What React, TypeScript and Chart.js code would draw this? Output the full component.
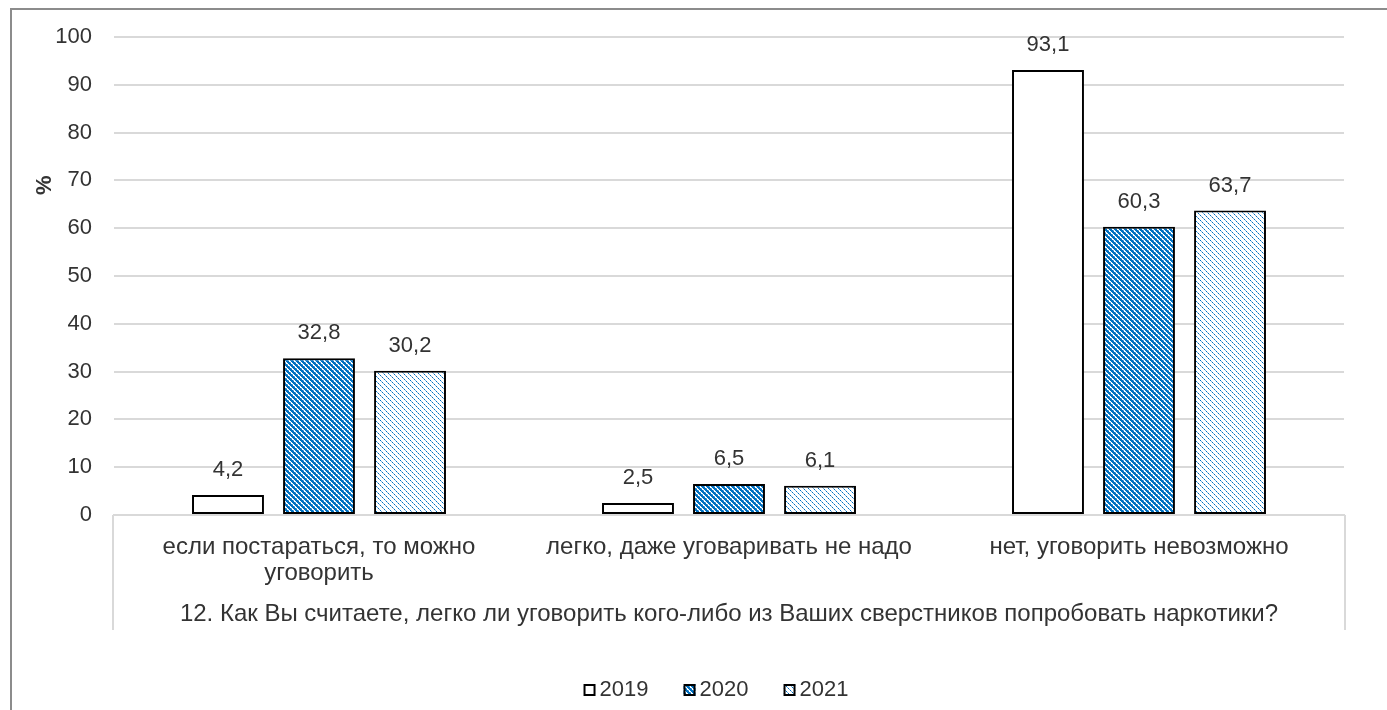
import { useEffect, useRef } from 'react';
import { Chart, registerables } from 'chart.js';

Chart.register(...registerables);

const categories: (string | string[])[] = [
  ['если постараться, то можно', 'уговорить'],
  'легко, даже уговаривать не надо',
  'нет, уговорить невозможно',
];
const seriesNames = ['2019', '2020', '2021'];
const values2019 = [4.2, 2.5, 93.1];
const values2020 = [32.8, 6.5, 60.3];
const values2021 = [30.2, 6.1, 63.7];
const yMin = 0;
const yMax = 100;
const yStep = 10;
const xAxisTitle = '12. Как Вы считаете, легко ли уговорить кого-либо из Ваших сверстников попробовать наркотики?';
const yAxisTitle = '%';

const FONT = "'Liberation Sans', Arial, sans-serif";
const TEXT = '#333333';
const GRID = '#d9d9d9';
const BLUE = [0, 112, 192];
const LIGHTBLUE = [120, 176, 226];
const WHITE = [255, 255, 255];

function makePattern(kind: 'dark' | 'light'): CanvasPattern {
  const n = 10;
  const c = document.createElement('canvas');
  c.width = n;
  c.height = n;
  const ctx = c.getContext('2d')!;
  const img = ctx.createImageData(n, n);
  for (let y = 0; y < n; y++) {
    for (let x = 0; x < n; x++) {
      const m = (((x - y) % 5) + 5) % 5;
      let col = WHITE;
      if (kind === 'dark') {
        if (m <= 2) col = BLUE;
        else if (m === 3 && y % 2 === 0) col = LIGHTBLUE;
      } else {
        if (m === 0) col = x % 2 === 0 ? BLUE : LIGHTBLUE;
      }
      const i = (y * n + x) * 4;
      img.data[i] = col[0];
      img.data[i + 1] = col[1];
      img.data[i + 2] = col[2];
      img.data[i + 3] = 255;
    }
  }
  ctx.putImageData(img, 0, 0);
  return ctx.createPattern(c, 'repeat')!;
}

export default function App() {
  const ref = useRef<HTMLCanvasElement | null>(null);

  useEffect(() => {
    if (!ref.current) return;
    const fills: (string | CanvasPattern)[] = ['#ffffff', makePattern('dark'), makePattern('light')];
    const seriesValues = [values2019, values2020, values2021];

    const framePlugin = {
      id: 'frame',
      beforeDraw(chart: any) {
        const ctx = chart.ctx;
        ctx.save();
        ctx.strokeStyle = '#8c8c8c';
        ctx.lineWidth = 2;
        ctx.strokeRect(11, 9, chart.width + 10, chart.height + 10);
        ctx.restore();
      },
      afterDraw(chart: any) {
        const ctx = chart.ctx;
        const ca = chart.chartArea;
        const xs = chart.scales.x;
        ctx.save();
        ctx.strokeStyle = GRID;
        ctx.lineWidth = 2;
        ctx.beginPath();
        ctx.moveTo(ca.left - 1, ca.bottom);
        ctx.lineTo(ca.left - 1, xs.bottom);
        ctx.moveTo(ca.right + 1, ca.bottom);
        ctx.lineTo(ca.right + 1, xs.bottom);
        ctx.stroke();
        ctx.fillStyle = TEXT;
        ctx.font = `bold 22px ${FONT}`;
        ctx.textAlign = 'center';
        ctx.textBaseline = 'middle';
        ctx.translate(ca.left - 69, ca.top + (ca.bottom - ca.top) * 0.31);
        ctx.rotate(-Math.PI / 2);
        ctx.fillText(yAxisTitle, 0, 0);
        ctx.restore();

        // legend
        ctx.save();
        ctx.font = `22px ${FONT}`;
        ctx.textBaseline = 'middle';
        ctx.textAlign = 'left';
        const box = 12;
        const gap = 4;
        const widths = seriesNames.map((s) => box + gap + ctx.measureText(s).width);
        const spacing = 100 - widths[0];
        const total = widths.reduce((a, b) => a + b, 0) + spacing * (seriesNames.length - 1);
        let x = (chart.width + 45) / 2 - total / 2;
        const cy = 690;
        seriesNames.forEach((s, i) => {
          ctx.fillStyle = fills[i];
          ctx.fillRect(x, cy - box / 2, box, box);
          ctx.strokeStyle = '#000';
          ctx.lineWidth = 2;
          ctx.strokeRect(x + 1, cy - box / 2 + 1, box - 2, box - 2);
          ctx.fillStyle = TEXT;
          ctx.fillText(s, x + box + gap, cy);
          x += widths[i] + spacing;
        });
        ctx.restore();
      },
      afterDatasetsDraw(chart: any) {
        const ctx = chart.ctx;
        ctx.save();
        ctx.font = `22px ${FONT}`;
        ctx.fillStyle = TEXT;
        ctx.textAlign = 'center';
        ctx.textBaseline = 'middle';
        chart.data.datasets.forEach((ds: any, di: number) => {
          const meta = chart.getDatasetMeta(di);
          meta.data.forEach((bar: any, i: number) => {
            const v = ds.data[i];
            ctx.fillText(String(v).replace('.', ','), bar.x, bar.y - 25);
          });
        });
        ctx.restore();
      },
    };

    const chart = new Chart(ref.current, {
      type: 'bar',
      data: {
        labels: categories,
        datasets: seriesNames.map((name, i) => ({
          label: name,
          data: seriesValues[i],
          backgroundColor: fills[i] as any,
          borderColor: '#000000',
          borderWidth: 2,
          borderSkipped: false,
          categoryPercentage: 0.666,
          barPercentage: 0.79,
        })),
      },
      options: {
        animation: false,
        responsive: false,
        maintainAspectRatio: false,
        layout: { padding: { left: 0, right: 43, top: 37, bottom: 80 } },
        plugins: {
          legend: { display: false },
          tooltip: { enabled: false },
        },
        scales: {
          x: {
            afterFit: (s: any) => {
              s.height = 115;
            },
            grid: { display: false, drawTicks: false },
            border: { display: true, color: GRID, width: 2 },
            ticks: {
              autoSkip: false,
              maxRotation: 0,
              minRotation: 0,
              padding: 19,
              color: TEXT,
              font: { family: FONT, size: 24, lineHeight: 1.1 },
            },
            title: {
              display: true,
              text: xAxisTitle,
              color: TEXT,
              font: { family: FONT, size: 24, lineHeight: 1.1 },
              padding: { top: 4, bottom: 2 },
            },
          },
          y: {
            min: yMin,
            max: yMax,
            afterFit: (s: any) => {
              s.width = 114;
            },
            grid: { color: GRID, lineWidth: 2, drawTicks: false },
            border: { display: false },
            ticks: {
              stepSize: yStep,
              padding: 22,
              color: TEXT,
              font: { family: FONT, size: 22 },
            },
          },
        },
      },
      plugins: [framePlugin],
    });
    return () => chart.destroy();
  }, []);

  return (
    <div style={{ position: 'fixed', left: 0, top: 0, width: 1387, height: 710, background: '#fff' }}>
      <canvas ref={ref} width={1387} height={710} style={{ display: 'block', width: 1387, height: 710 }} />
    </div>
  );
}
